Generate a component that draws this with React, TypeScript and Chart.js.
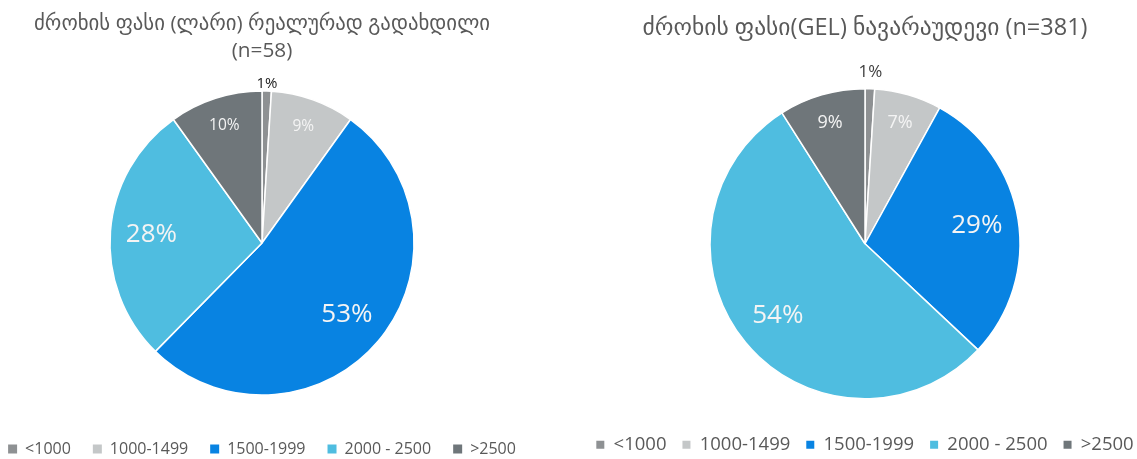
import React, { useEffect, useRef } from "react";
import { Chart, registerables } from "chart.js";

Chart.register(...registerables);

const categories = ["<1000", "1000-1499", "1500-1999", "2000 - 2500", ">2500"];
const actualPaidShares = [1, 9, 53, 28, 10];
const expectedShares = [1, 7, 29, 54, 9];
const titleActual = ["ძროხის ფასი (ლარი) რეალურად გადახდილი", "(n=58)"];
const titleExpected = ["ძროხის ფასი(GEL) ნავარაუდევი (n=381)"];
const sliceColors = ["#8e9193", "#c4c7c8", "#0883e2", "#4fbde0", "#6f767a"];

const FONT = "'Open Sans', 'DejaVu Sans', sans-serif";
const TEXT_GREY = "#595959";

const pieLabels = {
  id: "pieLabels",
  afterDatasetsDraw(chart: any, _args: any, opts: any) {
    const ctx = chart.ctx;
    const meta = chart.getDatasetMeta(0);
    const data = chart.data.datasets[0].data;
    ctx.save();
    ctx.textAlign = "center";
    ctx.textBaseline = "middle";
    meta.data.forEach((arc: any, i: number) => {
      const p = arc.getProps(["x", "y", "startAngle", "endAngle", "outerRadius"], true);
      const frac = (p.endAngle - p.startAngle) / (2 * Math.PI);
      const mid = (p.startAngle + p.endAngle) / 2;
      let r: number;
      let size: number;
      let color: string;
      if (frac < 0.03) {
        r = p.outerRadius + opts.outsideGap;
        size = opts.outsideSize;
        color = opts.outsideColor;
      } else if (frac < 0.15) {
        r = p.outerRadius * 0.81;
        size = opts.smallSize;
        color = opts.insideColor;
      } else {
        r = p.outerRadius * 0.73;
        size = opts.bigSize;
        color = opts.insideColor;
      }
      ctx.font = `${size}px ${FONT}`;
      ctx.fillStyle = color;
      ctx.fillText(`${data[i]}%`, p.x + Math.cos(mid) * r, p.y + Math.sin(mid) * r);
    });
    ctx.restore();
  },
};

type PieProps = {
  values: number[];
  title: string[];
  titleSize: number;
  titleLineHeight: number;
  titlePad: { top: number; bottom: number };
  legendSize: number;
  legendPad: number;
  box: number;
  radius: number;
  labels: any;
  left: number;
  width: number;
  height: number;
};

function PieChart(props: PieProps) {
  const ref = useRef<HTMLCanvasElement | null>(null);
  useEffect(() => {
    if (!ref.current) return;
    const chart = new Chart(ref.current, {
      type: "pie",
      data: {
        labels: categories,
        datasets: [
          {
            data: props.values,
            backgroundColor: sliceColors,
            borderColor: "#ffffff",
            borderWidth: 1.5,
            radius: props.radius,
          } as any,
        ],
      },
      options: {
        responsive: false,
        animation: false,
        devicePixelRatio: 1,
        layout: { padding: 0 },
        plugins: {
          title: {
            display: true,
            text: props.title,
            color: TEXT_GREY,
            font: { family: FONT, size: props.titleSize, weight: "normal", lineHeight: props.titleLineHeight },
            padding: props.titlePad,
          },
          legend: {
            display: true,
            position: "bottom",
            labels: {
              color: TEXT_GREY,
              font: { family: FONT, size: props.legendSize },
              boxWidth: props.box,
              boxHeight: props.box,
              padding: props.legendPad,
              generateLabels: (c: any) =>
                (Chart as any).overrides.pie.plugins.legend.labels
                  .generateLabels(c)
                  .map((l: any) => ({ ...l, lineWidth: 0, strokeStyle: "rgba(0,0,0,0)" })),
            },
          },
          tooltip: { enabled: false },
          pieLabels: props.labels,
        } as any,
      },
      plugins: [pieLabels as any],
    });
    return () => chart.destroy();
  }, []);
  return (
    <canvas
      ref={ref}
      width={props.width}
      height={props.height}
      style={{ position: "absolute", left: props.left, top: 0, width: props.width, height: props.height }}
    />
  );
}

export default function App() {
  return (
    <div
      style={{
        position: "absolute",
        left: 0,
        top: 0,
        width: 1137,
        height: 459,
        overflow: "hidden",
        background: "#ffffff",
      }}
    >
      <PieChart
        values={actualPaidShares}
        title={titleActual}
        titleSize={20.8}
        titleLineHeight={1.3}
        titlePad={{ top: 10.5, bottom: 2.5 }}
        legendSize={16}
        legendPad={22}
        box={9}
        radius={152}
        labels={{ outsideGap: 7, outsideSize: 15, outsideColor: "#1a1a1a", smallSize: 15.5, bigSize: 26, insideColor: "#f4f4f4" }}
        left={-44}
        width={612}
        height={467}
      />
      <PieChart
        values={expectedShares}
        title={titleExpected}
        titleSize={23.5}
        titleLineHeight={1.2}
        titlePad={{ top: 14, bottom: 25.8 }}
        legendSize={18.5}
        legendPad={16}
        box={8}
        radius={155}
        labels={{ outsideGap: 17, outsideSize: 17, outsideColor: "#404040", smallSize: 18, bigSize: 26, insideColor: "#f4f4f4" }}
        left={565}
        width={600}
        height={464}
      />
    </div>
  );
}
